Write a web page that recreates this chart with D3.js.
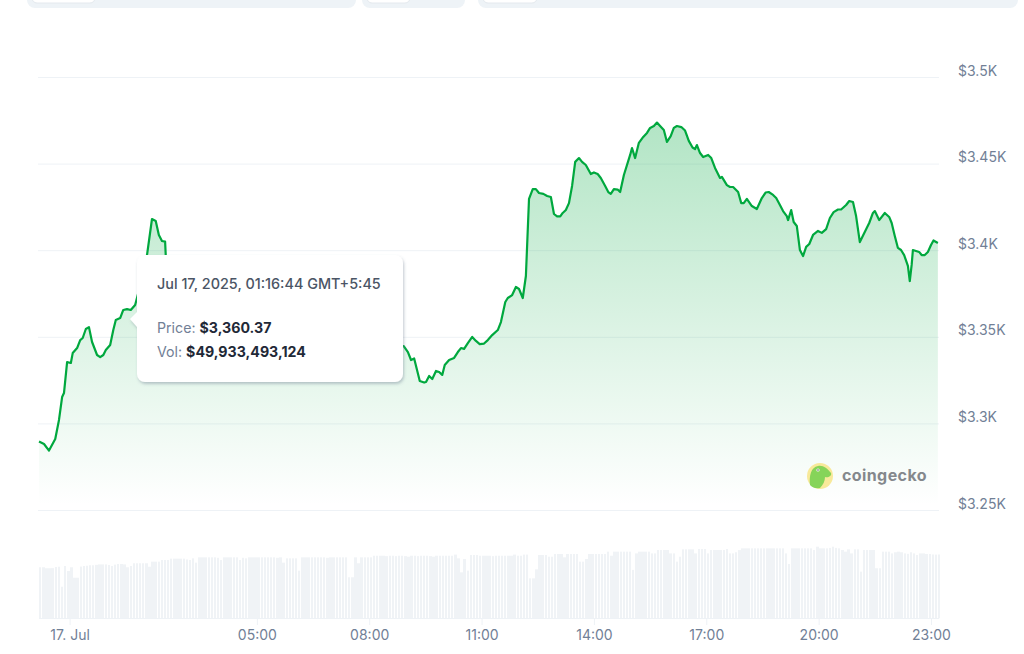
<!DOCTYPE html>
<html>
<head>
<meta charset="utf-8">
<script src="https://cdn.jsdelivr.net/npm/d3@7"></script>
<style>
  html, body { margin: 0; padding: 0; background: #fff; overflow: hidden; }
  text { font-family: Inter, "Noto Sans", sans-serif; }
</style>
</head>
<body>
<script>
// minutes from midnight, 17 Jul
var priceTimes = [-49,-41,-33,-23,-17,-12,-9,-4,2,5,12,17,21,26,31,36,44,49,54,58,65,70,74,81,86,92,98,105,110,114,119,124,132,138,143,148,153,154,
  // behind the tooltip, only a guess
  164,185,209,233,257,281,305,329,353,377,401,425,449,473,497,521,
  535,542,547,552,561,568,571,576,581,587,592,597,601,608,616,622,627,632,638,645,651,657,664,670,677,686,691,698,702,709,715,720,726,731,736,742,747,752,759,765,771,776,781,786,790,795,800,805,810,816,821,827,835,840,846,851,858,863,867,872,878,882,888,898,901,906,912,919,925,930,936,941,946,952,957,963,968,973,980,986,992,998,1002,1005,1010,1015,1023,1028,1034,1042,1045,1053,1058,1063,1071,1076,1080,1085,1093,1101,1109,1115,1120,1127,1132,1138,1143,1149,1151,1156,1160,1165,1170,1175,1180,1185,1191,1199,1205,1212,1218,1224,1231,1236,1244,1249,1255,1260,1266,1281,1287,1290,1297,1306,1313,1317,1322,1327,1332,1337,1343,1346,1349,1351,1361,1365,1370,1375,1380,1384,1391];

var priceValues = [3289.5,3288.1,3284.3,3291,3302,3315.2,3317.5,3335.4,3334.9,3340.6,3343.5,3348.1,3349.3,3354.5,3355.6,3347,3339.5,3338.3,3339.5,3342.4,3345.3,3353.9,3359.7,3360.8,3365.5,3366,3365.5,3368.4,3375.3,3382.8,3389.7,3397.2,3418,3416.9,3408.8,3405.3,3405,3397.2,
  3380,3371,3377,3365.5,3371,3359.7,3365.5,3354,3359.7,3348,3354,3345,3351,3342,3351,3345,
  3344.7,3341.2,3336.6,3337.5,3324.5,3323.6,3323.9,3327.4,3325.6,3330.3,3329.7,3328,3333.7,3336.6,3337.8,3341.2,3343.5,3343,3346.4,3349.9,3347.6,3345.8,3346.1,3348.1,3351,3353.9,3358.5,3370.1,3372.4,3374.1,3378.8,3377.6,3372.4,3385.1,3429.6,3435.3,3435.3,3433,3432.5,3431.3,3430.7,3420.9,3419.5,3419.5,3421.5,3423.2,3427.2,3437.1,3451,3453.2,3451,3449.2,3444,3444.9,3444,3441.7,3437.1,3433.6,3432.5,3435.3,3435,3433.6,3443.4,3455,3459,3453.2,3462,3465.4,3467.7,3470.6,3471.7,3473.7,3471.7,3469.4,3462.5,3465.9,3470.6,3471.7,3471.1,3469.1,3463.1,3459.3,3458.4,3460.7,3456.1,3453.8,3455,3453.2,3447.5,3441.7,3442.3,3437.6,3436.5,3436.5,3433.6,3427.2,3427.2,3429.6,3425.5,3423.8,3430.1,3433.3,3433.6,3431.9,3430.1,3426.1,3422.6,3419.7,3417.4,3423.2,3416.3,3414,3400.1,3396.6,3401.9,3403.6,3408.8,3411.1,3410,3412.2,3418.6,3422,3423.5,3423.5,3426.1,3428.4,3427.8,3419.7,3404.7,3415.7,3421.5,3422.6,3417.4,3421.5,3419.2,3415.7,3408.2,3401.3,3400.1,3397.2,3390.9,3382.2,3391.5,3400.1,3399,3397.2,3397.2,3399,3403,3405.6,3404.2];

// volume in billions, one bar every 5 minutes from -49
var volumeValues = [
  46.4,46.4,45.5,45.5,45.6,46.6,46.9,28.7,47.5,43,
  46.4,36.9,36.9,47,47.5,47.8,48.2,48.2,48.6,49,
  49,49,48.5,47.5,48.8,49.4,49.4,49,46.4,47.5,
  50,50,50,50,50,46.9,51.5,51.5,51.5,53,
  53,53,54.2,54.2,54.2,54.2,54.2,53.5,53,54.5,
  50.6,55.4,55.4,55.4,55.4,55.4,55.4,55,53,55.4,
  55.4,55.4,55.4,55.4,53,55,54.5,55.4,55.4,55.4,
  55.4,55.4,55.4,55.4,55.4,55.4,55,55.4,50.6,54.5,
  54.5,54.5,54.5,43.3,55.4,55.4,55.4,55.4,55.4,55.4,
  55.4,55.4,55,55.4,55.4,55.4,55.4,55.4,55.4,37.3,
  37.3,55.4,50,55.4,55.4,55.4,55.4,56.9,56.9,56.9,
  56.9,56.5,56.9,56.9,56.5,56.9,56.9,56.5,56,56.9,
  56.9,56.5,56.9,56.9,56.9,56.5,56,56.9,56.9,56.9,
  56.9,56.9,56.9,57.9,54.5,41.8,53.9,43.3,57.5,57.5,
  57.5,56.9,56.9,56.9,56.9,56.5,56.9,56.9,56.9,56.9,
  56.9,56.9,57.9,56.9,56.9,57.9,57.9,36.3,36.3,44.5,
  57.5,57.5,57.5,56,56,58.5,58.5,58.5,55.4,58.5,
  58.5,58.5,58.5,51.5,51.5,53.9,58.5,58.5,58.5,58.5,
  58.5,58.5,60.6,56.9,60.6,60.6,60.6,60.6,60.6,60.6,
  44,59,60.6,60.6,60.6,60.6,59,59,62.1,62.1,
  62.1,62.1,59,59,51.5,56,62.7,62.7,62.7,62.7,
  59,63,63,63,59,62.1,62.1,62.1,62.1,62.1,
  63,59,59,60,62,63.6,63.6,63.6,63.6,63.6,
  63.6,63.6,63.6,63.6,63.6,63.6,63.6,63.6,63.6,59,
  49.4,63.6,63.6,63.6,63.6,63.6,63.6,63.6,62.1,65.1,
  63.6,63.6,63.6,64,65.1,64,63.6,62.1,60.6,62.7,
  59,62.7,62.7,42.4,62.1,62.1,62.1,62.1,45.5,45.5,
  60.6,60.6,60.6,59,60,60.6,60,59,58.6,60,
  59,57.5,59,59,58.5,58.5,58,57.9,58
];

var priceTicks = [3250,3300,3350,3400,3450,3500];
var timeTicks = [0,300,480,660,840,1020,1200,1380];
var timeLabels = ['17. Jul','05:00','08:00','11:00','14:00','17:00','20:00','23:00'];

var tooltipDate = 'Jul 17, 2025, 01:16:44 GMT+5:45';
var tooltipPrice = '$3,360.37';
var tooltipVol = '$49,933,493,124';

var width = 1024, height = 654;

var x = d3.scaleLinear().domain([0, 1380]).range([69.6, 931]);
var y = d3.scaleLinear().domain([3250, 3500]).range([510, 77]);
var yVol = d3.scaleLinear().domain([0, 100]).range([618.3, 508.3]);

var points = priceTimes.map(function(t, i){ return [t, priceValues[i]]; });

var svg = d3.select('body').append('svg')
  .attr('width', width)
  .attr('height', height)
  .style('display', 'block');

var defs = svg.append('defs');

var grad = defs.append('linearGradient')
  .attr('id', 'fade')
  .attr('gradientUnits', 'userSpaceOnUse')
  .attr('x1', 0).attr('x2', 0)
  .attr('y1', y(d3.max(priceValues))).attr('y2', 505);
grad.append('stop').attr('offset', 0).attr('stop-color', '#00a83e').attr('stop-opacity', 0.3);
grad.append('stop').attr('offset', 1).attr('stop-color', '#00a83e').attr('stop-opacity', 0);

var blur = defs.append('filter').attr('id', 'shadow')
  .attr('x', '-10%').attr('y', '-10%').attr('width', '120%').attr('height', '125%');
blur.append('feDropShadow')
  .attr('dx', 1).attr('dy', 2).attr('stdDeviation', 1.5)
  .attr('flood-color', '#64748b').attr('flood-opacity', 0.4);

// the cut off buttons along the top
var pills = svg.append('g');
[[27, 329, 32, 63], [362, 103, 367, 43], [478, 540, 483, 54]].forEach(function(p){
  pills.append('rect').attr('x', p[0]).attr('y', -14).attr('width', p[1]).attr('height', 22)
    .attr('rx', 8).attr('fill', '#eef3f7');
  pills.append('rect').attr('x', p[2]).attr('y', -12).attr('width', p[3]).attr('height', 15)
    .attr('rx', 5).attr('fill', '#fff')
    .attr('stroke', '#e4e9ee');
});

// price axis, the domain line is dropped and ticks become the grid
var yAxis = svg.append('g')
  .attr('transform', 'translate(939,0)')
  .call(d3.axisRight(y)
    .tickValues(priceTicks)
    .tickSize(-901)
    .tickPadding(19)
    .tickFormat(function(d){ return '$' + (d / 1000) + 'K'; }));
yAxis.select('.domain').remove();
yAxis.selectAll('line').attr('stroke', '#eef2f6');
yAxis.selectAll('text')
  .attr('dy', '-0.13em')
  .attr('fill', '#718096')
  .style('font-size', '14px');

// volume
svg.append('g').selectAll('rect')
  .data(volumeValues)
  .enter()
  .append('rect')
  .attr('x', function(d, i){ return Math.round(x(-49 + i * 5)); })
  .attr('width', function(d, i){ return Math.round(x(-49 + i * 5) + 2.4) - Math.round(x(-49 + i * 5)); })
  .attr('y', function(d){ return yVol(d); })
  .attr('height', function(d){ return yVol(0) - yVol(d); })
  .attr('fill', '#f0f3f6');

// price
var area = d3.area()
  .x(function(d){ return x(d[0]); })
  .y0(510)
  .y1(function(d){ return y(d[1]); });

var line = d3.line()
  .x(function(d){ return x(d[0]); })
  .y(function(d){ return y(d[1]); });

svg.append('path').datum(points).attr('d', area).attr('fill', 'url(#fade)');
svg.append('path').datum(points).attr('d', line)
  .attr('fill', 'none')
  .attr('stroke', '#00a83e')
  .attr('stroke-width', 2.2)
  .attr('stroke-linejoin', 'round');

// time axis
var xAxis = svg.append('g')
  .attr('transform', 'translate(0,618)')
  .call(d3.axisBottom(x)
    .tickValues(timeTicks)
    .tickSize(7)
    .tickPadding(5)
    .tickFormat(function(d, i){ return timeLabels[i]; }));
xAxis.select('.domain').attr('d', 'M39,0.5H939').attr('stroke', '#eef2f6');
xAxis.selectAll('line').attr('stroke', '#eef2f6');
xAxis.selectAll('text')
  .attr('fill', '#718096')
  .style('font-size', '14px');

// logo
var logo = svg.append('g').attr('transform', 'translate(820,476)');
logo.append('circle').attr('r', 13).attr('fill', '#f8e99a');
logo.append('path')
  .attr('d', 'M-10,9 C-11,0 -9,-9 -2,-10 C3,-11 7,-8 11,-3 C12,0 8,2 5,1 C5,5 3,9 0,12 C-5,13 -8,11 -10,9 Z')
  .attr('fill', '#86d459');
logo.append('circle').attr('cx', -2).attr('cy', -6).attr('r', 1.6).attr('fill', '#fff');
logo.append('circle').attr('cx', -2).attr('cy', -6).attr('r', 0.8).attr('fill', '#555');
svg.append('text')
  .attr('x', 842).attr('y', 481)
  .attr('fill', '#84888c')
  .style('font-size', '16px')
  .style('font-weight', 700)
  .style('letter-spacing', '0.4px')
  .text('coingecko');

// tooltip
var tip = svg.append('g').attr('filter', 'url(#shadow)');
tip.append('path').attr('d', 'M137,312 L130,319 L137,327 Z').attr('fill', '#fff');
tip.append('rect')
  .attr('x', 137).attr('y', 255)
  .attr('width', 266).attr('height', 127)
  .attr('rx', 8)
  .attr('fill', '#fff');

svg.append('text').attr('x', 157).attr('y', 289)
  .attr('fill', '#4b5565')
  .style('font-size', '14.4px')
  .style('font-weight', 500)
  .text(tooltipDate);

var priceRow = svg.append('text').attr('x', 157).attr('y', 333)
  .style('font-size', '14.2px');
priceRow.append('tspan').attr('fill', '#718096').text('Price: ');
priceRow.append('tspan').attr('fill', '#1f2937').style('font-weight', 700).text(tooltipPrice);

var volRow = svg.append('text').attr('x', 157).attr('y', 357)
  .style('font-size', '14.2px');
volRow.append('tspan').attr('fill', '#718096').text('Vol: ');
volRow.append('tspan').attr('fill', '#1f2937').style('font-weight', 700).text(tooltipVol);
</script>
</body>
</html>
